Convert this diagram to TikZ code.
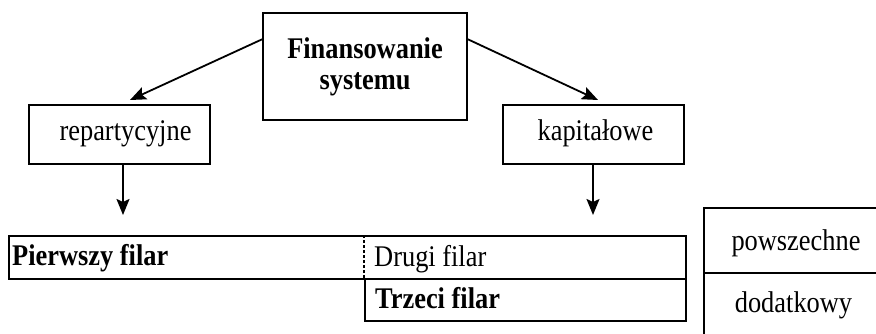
\documentclass[tikz,border=0pt]{standalone}
\usepackage{fontspec}
\setmainfont{Liberation Serif}[FakeStretch=0.88]
\usetikzlibrary{arrows.meta,calc}
\begin{document}
\begin{tikzpicture}[x=1pt,y=-1pt,
  box/.style={draw, line width=1.8pt, inner sep=0pt},
  txt/.style={font=\fontsize{30}{31}\selectfont},
  btxt/.style={font=\fontsize{30}{31}\selectfont\bfseries},
  lbl/.style={inner sep=0pt},
  arr/.style={line width=1.8pt, -{Stealth[length=16pt,width=13pt,inset=3pt]}},
  sep/.style={line width=1.1pt, dash pattern=on 3pt off 2pt},
]
\useasboundingbox (0,0) rectangle (876,334);

% top of the hierarchy
\node[box, btxt, align=center, minimum width=204, minimum height=107] (top) at (365,66.5) {Finansowanie\\systemu};

% the two financing methods
\node[box, txt, text height=20pt, text depth=7pt, minimum width=181, minimum height=59] (rep) at (119.5,134.5) {\hspace*{12pt}repartycyjne};
\node[box, txt, text height=20pt, text depth=7pt, minimum width=181, minimum height=59] (kap) at (593.5,134.5) {\hspace*{4pt}kapitałowe};

\coordinate (repIn) at (130,100);
\coordinate (kapIn) at (598,100);
\draw[arr] ($(top.north west)!0.25!(top.south west)$) -- (repIn);
\draw[arr] ($(top.north east)!0.25!(top.south east)$) -- (kapIn);

\coordinate (leftIn) at (123,215);
\coordinate (rightIn) at (593,215);
\draw[arr] (rep.south -| leftIn) -- (leftIn);
\draw[arr] (kap.south -| rightIn) -- (rightIn);

% the pillars
\node[box, anchor=north west, minimum width=677, minimum height=43] (row1) at (8,235) {};
\node[box, anchor=north west, minimum width=321, minimum height=42] (row2) at (364,278) {};
\draw[sep] (row2.north west) -- (row2.north west |- row1.north);

\node[btxt, lbl, anchor=base west] (p1) at (12,265) {Pierwszy filar};
\node[txt, lbl, anchor=base west] (p2) at (374,266) {Drugi filar};
\node[btxt, lbl, anchor=base west] (p3) at (375,308) {Trzeci filar};

% legend table
\begin{scope}
  \clip (0,0) rectangle (876,334);
  \node[box, anchor=north west, minimum width=186, minimum height=65] (cell1) at (703,207) {};
  \node[box, anchor=north west, minimum width=186, minimum height=80] (cell2) at (703,272) {};
\end{scope}
\node[txt, lbl, anchor=base] (pow) at (796,251) {powszechne};
\node[txt, lbl, anchor=base] (dod) at (793.5,312) {dodatkowy};
\end{tikzpicture}
\end{document}
